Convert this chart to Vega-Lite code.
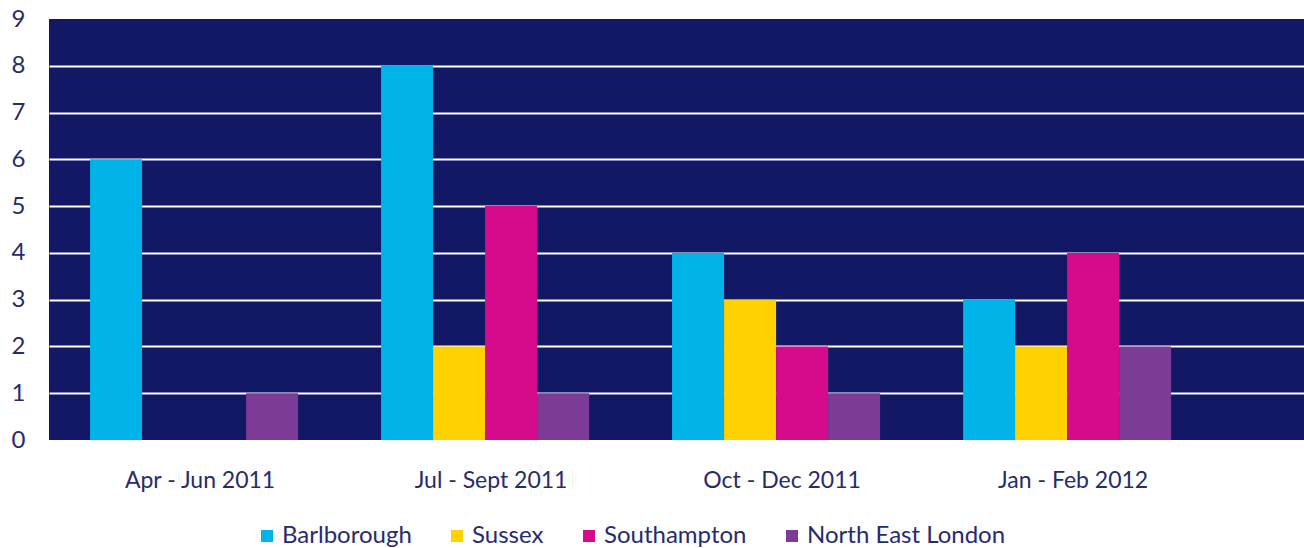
{
  "$schema": "https://vega.github.io/schema/vega-lite/v6.json",
  "width": 1255,
  "height": 421,
  "autosize": {"type": "none"},
  "padding": {"left": 49, "top": 19, "right": 0, "bottom": 108},
  "background": "white",
  "config": {"view": {"fill": "#121766", "stroke": null}, "font": "Lato"},
  "data": {
    "values": [
      {"period": "Apr - Jun 2011", "region": "Barlborough", "value": 6},
      {"period": "Apr - Jun 2011", "region": "Sussex", "value": 0},
      {"period": "Apr - Jun 2011", "region": "Southampton", "value": 0},
      {"period": "Apr - Jun 2011", "region": "North East London", "value": 1},
      {"period": "Jul - Sept 2011", "region": "Barlborough", "value": 8},
      {"period": "Jul - Sept 2011", "region": "Sussex", "value": 2},
      {"period": "Jul - Sept 2011", "region": "Southampton", "value": 5},
      {"period": "Jul - Sept 2011", "region": "North East London", "value": 1},
      {"period": "Oct - Dec 2011", "region": "Barlborough", "value": 4},
      {"period": "Oct - Dec 2011", "region": "Sussex", "value": 3},
      {"period": "Oct - Dec 2011", "region": "Southampton", "value": 2},
      {"period": "Oct - Dec 2011", "region": "North East London", "value": 1},
      {"period": "Jan - Feb 2012", "region": "Barlborough", "value": 3},
      {"period": "Jan - Feb 2012", "region": "Sussex", "value": 2},
      {"period": "Jan - Feb 2012", "region": "Southampton", "value": 4},
      {"period": "Jan - Feb 2012", "region": "North East London", "value": 2}
    ]
  },
  "mark": {"type": "bar"},
  "encoding": {
    "x": {
      "field": "period",
      "type": "nominal",
      "sort": ["Apr - Jun 2011", "Jul - Sept 2011", "Oct - Dec 2011", "Jan - Feb 2012"],
      "scale": {"paddingInner": 0.285, "paddingOuter": 0.2988, "align": 0.236},
      "axis": {
        "title": null,
        "labelAngle": 0,
        "ticks": false,
        "domain": false,
        "grid": false,
        "labelFontSize": 23,
        "labelColor": "#272b6e",
        "labelPadding": 29,
        "labelOffset": 6
      }
    },
    "xOffset": {
      "field": "region",
      "type": "nominal",
      "sort": ["Barlborough", "Sussex", "Southampton", "North East London"],
      "scale": {"paddingInner": 0, "paddingOuter": 0}
    },
    "y": {
      "field": "value",
      "type": "quantitative",
      "scale": {"domain": [0, 9], "nice": false},
      "axis": {
        "title": null,
        "values": [0, 1, 2, 3, 4, 5, 6, 7, 8, 9],
        "ticks": false,
        "domain": false,
        "labelFontSize": 24,
        "labelColor": "#272b6e",
        "labelPadding": 24,
        "gridColor": {"condition": {"test": "datum.value == 0 || datum.value == 9", "value": "transparent"}, "value": "white"},
        "gridWidth": 2,
        "gridOpacity": 1
      }
    },
    "color": {
      "field": "region",
      "type": "nominal",
      "scale": {
        "domain": ["Barlborough", "Sussex", "Southampton", "North East London"],
        "range": ["#00b3e9", "#ffd100", "#d60b8c", "#7b3b96"]
      },
      "legend": {
        "orient": "none",
        "legendX": 206,
        "legendY": 505,
        "direction": "horizontal",
        "title": null,
        "symbolType": "square",
        "symbolSize": 144,
        "symbolStrokeWidth": 0,
        "symbolOpacity": 1,
        "labelFontSize": 24,
        "labelColor": "#272b6e",
        "labelOffset": 3,
        "columnPadding": 33,
        "labelLimit": 300
      }
    }
  }
}
